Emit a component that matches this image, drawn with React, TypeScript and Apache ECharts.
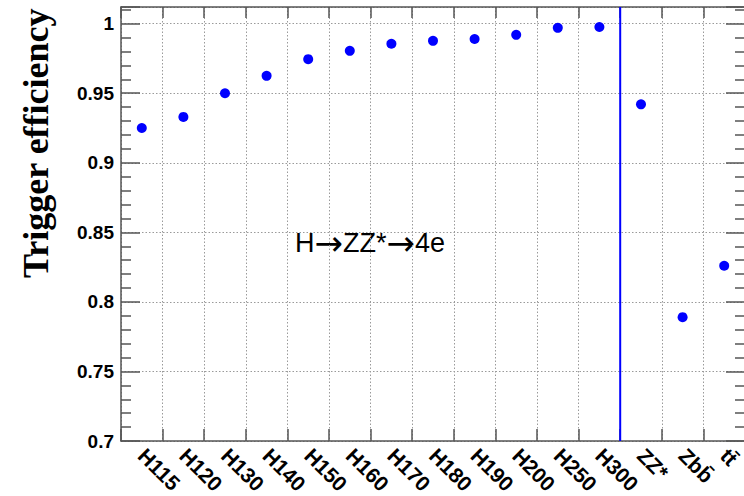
import React, { useEffect, useRef } from "react";
import * as echarts from "echarts";

const categories = ["H115", "H120", "H130", "H140", "H150", "H160", "H170", "H180", "H190", "H200", "H250", "H300", "ZZ*", "Zbb\u0304", "tt\u0304"];
const efficiency = [0.925, 0.933, 0.950, 0.9625, 0.9745, 0.9805, 0.9856, 0.9877, 0.989, 0.992, 0.997, 0.9976, 0.942, 0.789, 0.826];
const yMin = 0.7;
const yMax = 1.012;
const yStep = 0.05;
const separatorIndex = 12; // boundary between H300 and ZZ*
const annotation = "H{a|\u2192}ZZ*{a|\u2192}4e";
const yTitle = "Trigger efficiency";

export default function App() {
  const ref = useRef<HTMLDivElement>(null);
  useEffect(() => {
    if (!ref.current) return;
    const chart = echarts.init(ref.current, null, { renderer: "svg" });
    const frame = "#555555";
    const grid = "#9a9a9a";
    chart.setOption({
      animation: false,
      backgroundColor: "#ffffff",
      grid: { left: 121, top: 7, right: -1, bottom: 55, outerBoundsMode: "none", containLabel: false },
      xAxis: [
        {
          type: "category",
          data: categories,
          position: "bottom",
          boundaryGap: true,
          axisLine: { show: true, lineStyle: { color: frame, width: 1.5 } },
          axisTick: { show: true, inside: true, length: 12, lineStyle: { color: frame, width: 1.5 } },
          splitLine: { show: true, lineStyle: { color: grid, type: [1.5, 2], width: 1 } },
          axisLabel: {
            rotate: -45,
            interval: 0,
            margin: 11,
            fontFamily: "Liberation Sans, Arial, sans-serif",
            fontWeight: "bold",
            fontSize: 21,
            lineHeight: 21,
            color: "#000",
          },
        },
        {
          type: "category",
          data: categories,
          position: "top",
          boundaryGap: true,
          axisLine: { show: true, lineStyle: { color: frame, width: 1.5 } },
          axisTick: { show: true, inside: true, length: 11, lineStyle: { color: frame, width: 1.5 } },
          axisLabel: { show: false },
          splitLine: { show: false },
        },
        {
          type: "value",
          min: 0,
          max: categories.length,
          show: false,
        },
      ],
      yAxis: [
        {
          type: "value",
          min: yMin,
          max: yMax,
          interval: yStep,
          position: "left",
          axisLine: { show: true, lineStyle: { color: frame, width: 1.5 } },
          axisTick: { show: true, inside: true, length: 19, lineStyle: { color: frame, width: 1.5 } },
          minorTick: { show: true, splitNumber: 5, length: 10, lineStyle: { color: frame, width: 1.5 } },
          splitLine: { show: true, lineStyle: { color: grid, type: [1.5, 2], width: 1 } },
          axisLabel: {
            showMaxLabel: false,
            margin: 7,
            fontFamily: "Liberation Sans, Arial, sans-serif",
            fontWeight: "bold",
            fontSize: 19,
            color: "#000",
            formatter: (v: number) => String(Math.round(v * 100) / 100),
          },
        },
        {
          type: "value",
          min: yMin,
          max: yMax,
          interval: yStep,
          position: "right",
          axisLine: { show: true, lineStyle: { color: frame, width: 1.5 } },
          axisTick: { show: true, inside: true, length: 19, lineStyle: { color: frame, width: 1.5 } },
          minorTick: { show: true, splitNumber: 5, length: 10, lineStyle: { color: frame, width: 1.5 } },
          splitLine: { show: false },
          axisLabel: { show: false },
        },
      ],
      graphic: [
        {
          type: "text",
          rotation: Math.PI / 2,
          originX: 0,
          originY: 0,
          x: 18,
          y: 278,
          style: {
            text: yTitle,
            font: "bold 36px 'Liberation Serif', 'Times New Roman', serif",
            fill: "#000",
          },
        },
        {
          type: "text",
          x: 295,
          y: 226,
          style: {
            text: annotation,
            font: "27px 'Liberation Sans', Arial, sans-serif",
            fill: "#000",
            rich: {
              a: {
                font: "34px 'DejaVu Sans', sans-serif",
                fill: "#000",
              },
            },
          },
        },
      ],
      series: [
        {
          type: "scatter",
          xAxisIndex: 0,
          yAxisIndex: 0,
          data: efficiency,
          symbol: "circle",
          symbolSize: 10,
          itemStyle: { color: "#0000ff", opacity: 1 },
          z: 5,
        },
        {
          type: "line",
          xAxisIndex: 2,
          yAxisIndex: 0,
          data: [
            [separatorIndex, yMin],
            [separatorIndex, yMax],
          ],
          symbol: "none",
          lineStyle: { color: "#0000ff", width: 2 },
          z: 4,
        },
      ],
    });
    return () => chart.dispose();
  }, []);
  return <div ref={ref} style={{ width: 744, height: 496, position: "absolute", left: 0, top: 0 }} />;
}
